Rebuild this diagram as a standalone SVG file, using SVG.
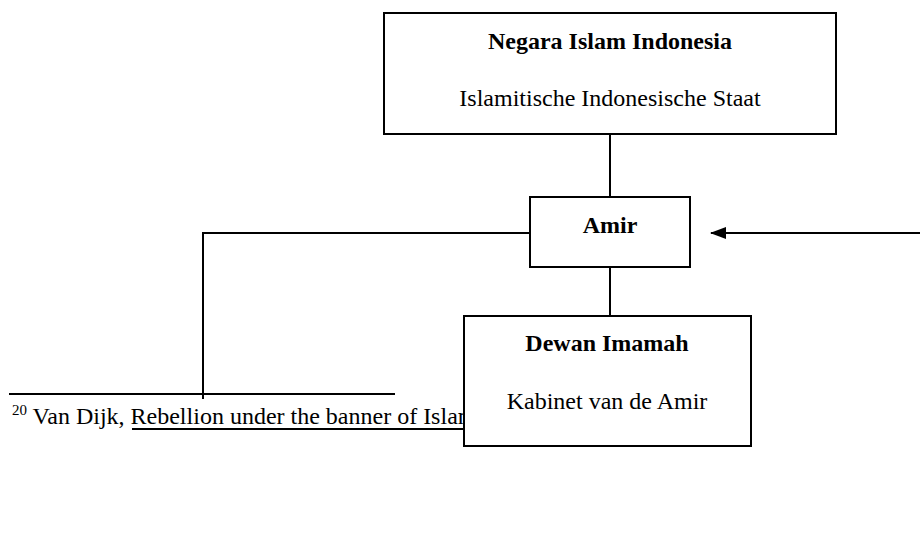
<svg xmlns="http://www.w3.org/2000/svg" width="920" height="560" viewBox="0 0 920 560">
  <style>
    .box { fill: #ffffff; stroke: #000000; stroke-width: 2; }
    .line { fill: none; stroke: #000000; stroke-width: 2; }
    text { font-family: "Liberation Serif", "Times New Roman", serif; fill: #000000; }
    .title { font-size: 24px; font-weight: bold; text-anchor: middle; }
    .sub { font-size: 24px; text-anchor: middle; }
    .note { font-size: 24px; }
    .sup { font-size: 15px; }
  </style>
  <defs>
    <marker id="arrow" markerWidth="16" markerHeight="12" refX="15" refY="6" orient="auto" markerUnits="userSpaceOnUse">
      <path d="M0,0 L16,6 L0,12 Z" fill="#000000"/>
    </marker>
  </defs>
  <rect width="920" height="560" fill="#ffffff"/>

  <!-- footnote separator and footnote text -->
  <g id="footnote">
    <line class="line" x1="9" y1="394" x2="395" y2="394"/>
    <text class="note" x="12" y="424"><tspan class="sup" dy="-9">20</tspan><tspan dy="9"> Van Dijk, Rebellion under the banner of Islam</tspan></text>
    <line class="line" x1="132" y1="429" x2="470" y2="429"/>
  </g>

  <!-- connectors -->
  <g id="connectors">
    <line class="line" x1="610" y1="134" x2="610" y2="197"/>
    <line class="line" x1="610" y1="267" x2="610" y2="316"/>
    <polyline class="line" points="530,233 203,233 203,399"/>
    <line class="line" x1="920" y1="233" x2="711" y2="233" marker-end="url(#arrow)"/>
  </g>

  <g id="node-nii">
    <rect class="box" x="384" y="13" width="452" height="121"/>
    <text class="title" x="610" y="49">Negara Islam Indonesia</text>
    <text class="sub" x="610" y="106">Islamitische Indonesische Staat</text>
  </g>

  <g id="node-amir">
    <rect class="box" x="530" y="197" width="160" height="70"/>
    <text class="title" x="610" y="233">Amir</text>
  </g>

  <g id="node-dewan">
    <rect class="box" x="464" y="316" width="287" height="130"/>
    <text class="title" x="607" y="351">Dewan Imamah</text>
    <text class="sub" x="607" y="409">Kabinet van de Amir</text>
  </g>
</svg>
